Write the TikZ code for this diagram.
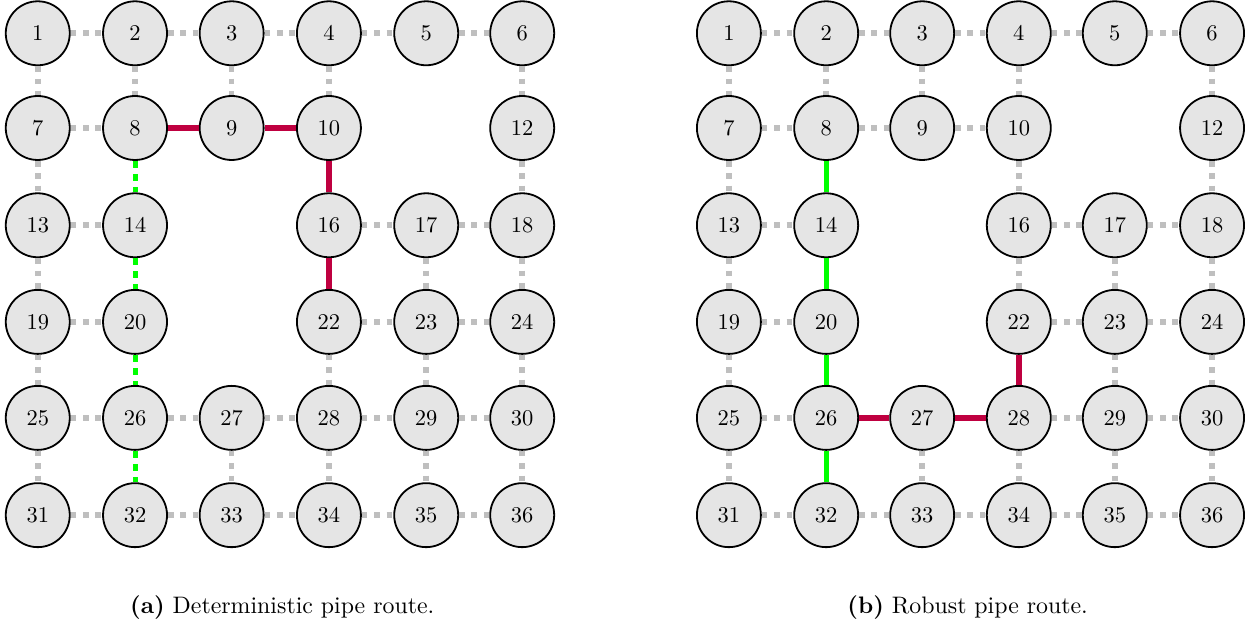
\documentclass[tikz,border=0pt]{standalone}
\usetikzlibrary{positioning}
\tikzset{
  cell/.style={circle,draw,thick,fill=gray!20,minimum size=1cm,inner sep=0pt},
  link/.style={gray!50,line width=2.5pt,dash pattern=on 2.5pt off 3pt},
  gdot/.style={green,line width=2.2pt,dash pattern=on 3pt off 2.8pt},
  gline/.style={green,line width=2.2pt},
  rline/.style={purple,line width=2.5pt},
  capt/.style={anchor=base,font=\fontsize{10.6}{12.7}\selectfont}
}
\begin{document}
\begin{tikzpicture}
      \useasboundingbox (0,0) rectangle (19.58,-9.797);
      \begin{scope}[every node/.style={cell}]
      \draw
        (0.59,-0.52) node (a1){1}
        (2.11,-0.52) node (a2){2}
        (3.62,-0.52) node (a3){3}
        (5.14,-0.52) node (a4){4}
        (6.66,-0.52) node (a5){5}
        (8.16,-0.52) node (a6){6}
        (0.59,-2.00) node (a7){7}
        (2.11,-2.00) node (a8){8}
        (3.62,-2.00) node (a9){9}
        (5.14,-2.00) node (a10){10}
        (8.16,-2.00) node (a12){12}
        (0.59,-3.52) node (a13){13}
        (2.11,-3.52) node (a14){14}
        (5.14,-3.52) node (a16){16}
        (6.66,-3.52) node (a17){17}
        (8.16,-3.52) node (a18){18}
        (0.59,-5.03) node (a19){19}
        (2.11,-5.03) node (a20){20}
        (5.14,-5.03) node (a22){22}
        (6.66,-5.03) node (a23){23}
        (8.16,-5.03) node (a24){24}
        (0.59,-6.53) node (a25){25}
        (2.11,-6.53) node (a26){26}
        (3.62,-6.53) node (a27){27}
        (5.14,-6.53) node (a28){28}
        (6.66,-6.53) node (a29){29}
        (8.16,-6.53) node (a30){30}
        (0.59,-8.05) node (a31){31}
        (2.11,-8.05) node (a32){32}
        (3.62,-8.05) node (a33){33}
        (5.14,-8.05) node (a34){34}
        (6.66,-8.05) node (a35){35}
        (8.16,-8.05) node (a36){36};
      \draw
        (11.39,-0.52) node (b1){1}
        (12.91,-0.52) node (b2){2}
        (14.41,-0.52) node (b3){3}
        (15.92,-0.52) node (b4){4}
        (17.42,-0.52) node (b5){5}
        (18.94,-0.52) node (b6){6}
        (11.39,-2.00) node (b7){7}
        (12.91,-2.00) node (b8){8}
        (14.41,-2.00) node (b9){9}
        (15.92,-2.00) node (b10){10}
        (18.94,-2.00) node (b12){12}
        (11.39,-3.52) node (b13){13}
        (12.91,-3.52) node (b14){14}
        (15.92,-3.52) node (b16){16}
        (17.42,-3.52) node (b17){17}
        (18.94,-3.52) node (b18){18}
        (11.39,-5.03) node (b19){19}
        (12.91,-5.03) node (b20){20}
        (15.92,-5.03) node (b22){22}
        (17.42,-5.03) node (b23){23}
        (18.94,-5.03) node (b24){24}
        (11.39,-6.53) node (b25){25}
        (12.91,-6.53) node (b26){26}
        (14.41,-6.53) node (b27){27}
        (15.92,-6.53) node (b28){28}
        (17.42,-6.53) node (b29){29}
        (18.94,-6.53) node (b30){30}
        (11.39,-8.05) node (b31){31}
        (12.91,-8.05) node (b32){32}
        (14.41,-8.05) node (b33){33}
        (15.92,-8.05) node (b34){34}
        (17.42,-8.05) node (b35){35}
        (18.94,-8.05) node (b36){36};
      \end{scope}
      \node[capt] (capa) at (4.41,-9.58) {\textbf{(a)} Deterministic pipe route.};
      \node[capt] (capb) at (15.12,-9.58) {\textbf{(b)} Robust pipe route.};
      \begin{scope}[link]
        \draw (a1) to (a2);
        \draw (a2) to (a3);
        \draw (a3) to (a4);
        \draw (a4) to (a5);
        \draw (a5) to (a6);
        \draw (a7) to (a8);
        \draw (a13) to (a14);
        \draw (a16) to (a17);
        \draw (a17) to (a18);
        \draw (a19) to (a20);
        \draw (a22) to (a23);
        \draw (a23) to (a24);
        \draw (a25) to (a26);
        \draw (a26) to (a27);
        \draw (a27) to (a28);
        \draw (a28) to (a29);
        \draw (a29) to (a30);
        \draw (a31) to (a32);
        \draw (a32) to (a33);
        \draw (a33) to (a34);
        \draw (a34) to (a35);
        \draw (a35) to (a36);
        \draw (a1) to (a7);
        \draw (a7) to (a13);
        \draw (a13) to (a19);
        \draw (a19) to (a25);
        \draw (a25) to (a31);
        \draw (a2) to (a8);
        \draw (a3) to (a9);
        \draw (a27) to (a33);
        \draw (a4) to (a10);
        \draw (a22) to (a28);
        \draw (a28) to (a34);
        \draw (a17) to (a23);
        \draw (a23) to (a29);
        \draw (a29) to (a35);
        \draw (a6) to (a12);
        \draw (a12) to (a18);
        \draw (a18) to (a24);
        \draw (a24) to (a30);
        \draw (a30) to (a36);
      \end{scope}
      \begin{scope}[rline]
        \draw (a8) to (a9);
        \draw (a9) to (a10);
        \draw (a10) to (a16);
        \draw (a16) to (a22);
      \end{scope}
      \begin{scope}[gdot]
        \draw (a8) to (a14);
        \draw (a14) to (a20);
        \draw (a20) to (a26);
        \draw (a26) to (a32);
      \end{scope}
      \begin{scope}[link]
        \draw (b1) to (b2);
        \draw (b2) to (b3);
        \draw (b3) to (b4);
        \draw (b4) to (b5);
        \draw (b5) to (b6);
        \draw (b7) to (b8);
        \draw (b8) to (b9);
        \draw (b9) to (b10);
        \draw (b13) to (b14);
        \draw (b16) to (b17);
        \draw (b17) to (b18);
        \draw (b19) to (b20);
        \draw (b22) to (b23);
        \draw (b23) to (b24);
        \draw (b25) to (b26);
        \draw (b28) to (b29);
        \draw (b29) to (b30);
        \draw (b31) to (b32);
        \draw (b32) to (b33);
        \draw (b33) to (b34);
        \draw (b34) to (b35);
        \draw (b35) to (b36);
        \draw (b1) to (b7);
        \draw (b7) to (b13);
        \draw (b13) to (b19);
        \draw (b19) to (b25);
        \draw (b25) to (b31);
        \draw (b2) to (b8);
        \draw (b3) to (b9);
        \draw (b27) to (b33);
        \draw (b4) to (b10);
        \draw (b10) to (b16);
        \draw (b16) to (b22);
        \draw (b28) to (b34);
        \draw (b17) to (b23);
        \draw (b23) to (b29);
        \draw (b29) to (b35);
        \draw (b6) to (b12);
        \draw (b12) to (b18);
        \draw (b18) to (b24);
        \draw (b24) to (b30);
        \draw (b30) to (b36);
      \end{scope}
      \begin{scope}[rline]
        \draw (b22) to (b28);
        \draw (b26) to (b27);
        \draw (b27) to (b28);
      \end{scope}
      \begin{scope}[gline]
        \draw (b8) to (b14);
        \draw (b14) to (b20);
        \draw (b20) to (b26);
        \draw (b26) to (b32);
      \end{scope}
    \end{tikzpicture}
\end{document}
